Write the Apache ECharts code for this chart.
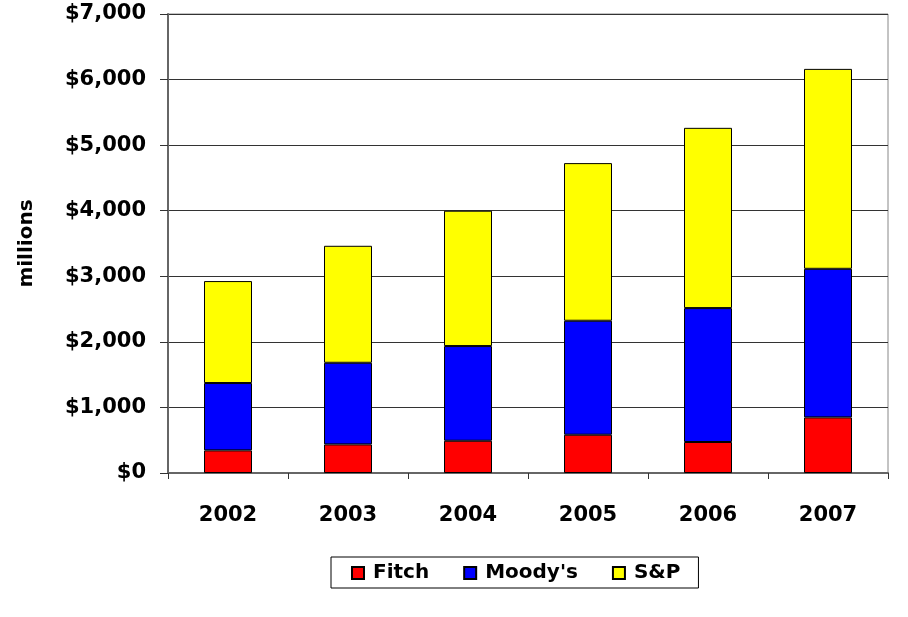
<!DOCTYPE html>
<html>
<head>
<meta charset="utf-8">
<script src="https://cdn.jsdelivr.net/npm/echarts@6/dist/echarts.min.js"></script>
<style>html,body{margin:0;padding:0;background:#fff}#c{width:908px;height:617px}</style>
</head>
<body>
<div id="c"></div>
<script>
const years = ['2002','2003','2004','2005','2006','2007'];
const fitch = [345, 436, 492, 584, 473, 848];
const moodys = [1027, 1245, 1444, 1738, 2042, 2266];
const sp = [1555, 1784, 2064, 2404, 2749, 3049];
const yTicks = [0, 1000, 2000, 3000, 4000, 5000, 6000, 7000];

const FONT = 'DejaVu Sans';
const chart = echarts.init(document.getElementById('c'));
function mk(name, data, color) {
  return {
    name, type: 'bar', stack: 'total', data, barWidth: 48,
    itemStyle: { color, borderColor: '#000', borderWidth: 1 }
  };
}
chart.setOption({
  animation: false,
  textStyle: { fontFamily: FONT },
  grid: { left: 168, right: 20, top: 14, bottom: 144, show: true, borderColor: '#888', borderWidth: 1, backgroundColor: 'transparent' },
  xAxis: {
    type: 'category', data: years,
    axisLine: { lineStyle: { color: '#666', width: 2 } },
    axisTick: { show: true, length: 6, lineStyle: { color: '#333' } },
    axisLabel: { color: '#000', fontSize: 21, fontWeight: 'bold', fontFamily: FONT, margin: 32 }
  },
  yAxis: {
    type: 'value', min: yTicks[0], max: yTicks[yTicks.length - 1], interval: 1000,
    name: 'millions', nameLocation: 'middle', nameGap: 131, nameRotate: 90,
    nameTextStyle: { color: '#000', fontSize: 20, fontWeight: 'bold', fontFamily: FONT },
    axisLine: { show: true, lineStyle: { color: '#666', width: 2 } },
    axisTick: { show: true, length: 8, lineStyle: { color: '#333' } },
    splitLine: { lineStyle: { color: '#333', width: 1 } },
    axisLabel: {
      color: '#000', fontSize: 21, fontWeight: 'bold', fontFamily: FONT, margin: 22,
      formatter: v => '$' + v.toLocaleString('en-US')
    }
  },
  legend: {
    left: 331, top: 557,
    padding: [6, 18, 5, 20],
    borderColor: '#000', borderWidth: 1,
    itemWidth: 12, itemHeight: 12, itemGap: 34,
    icon: 'rect',
    textStyle: { color: '#000', fontSize: 20, fontWeight: 'bold', fontFamily: FONT, padding: [2, 0, 0, 4] },
    data: ['Fitch', "Moody's", 'S&P']
  },
  series: [
    mk('Fitch', fitch, '#ff0000'),
    mk("Moody's", moodys, '#0000ff'),
    mk('S&P', sp, '#ffff00')
  ]
});
</script>
</body>
</html>
